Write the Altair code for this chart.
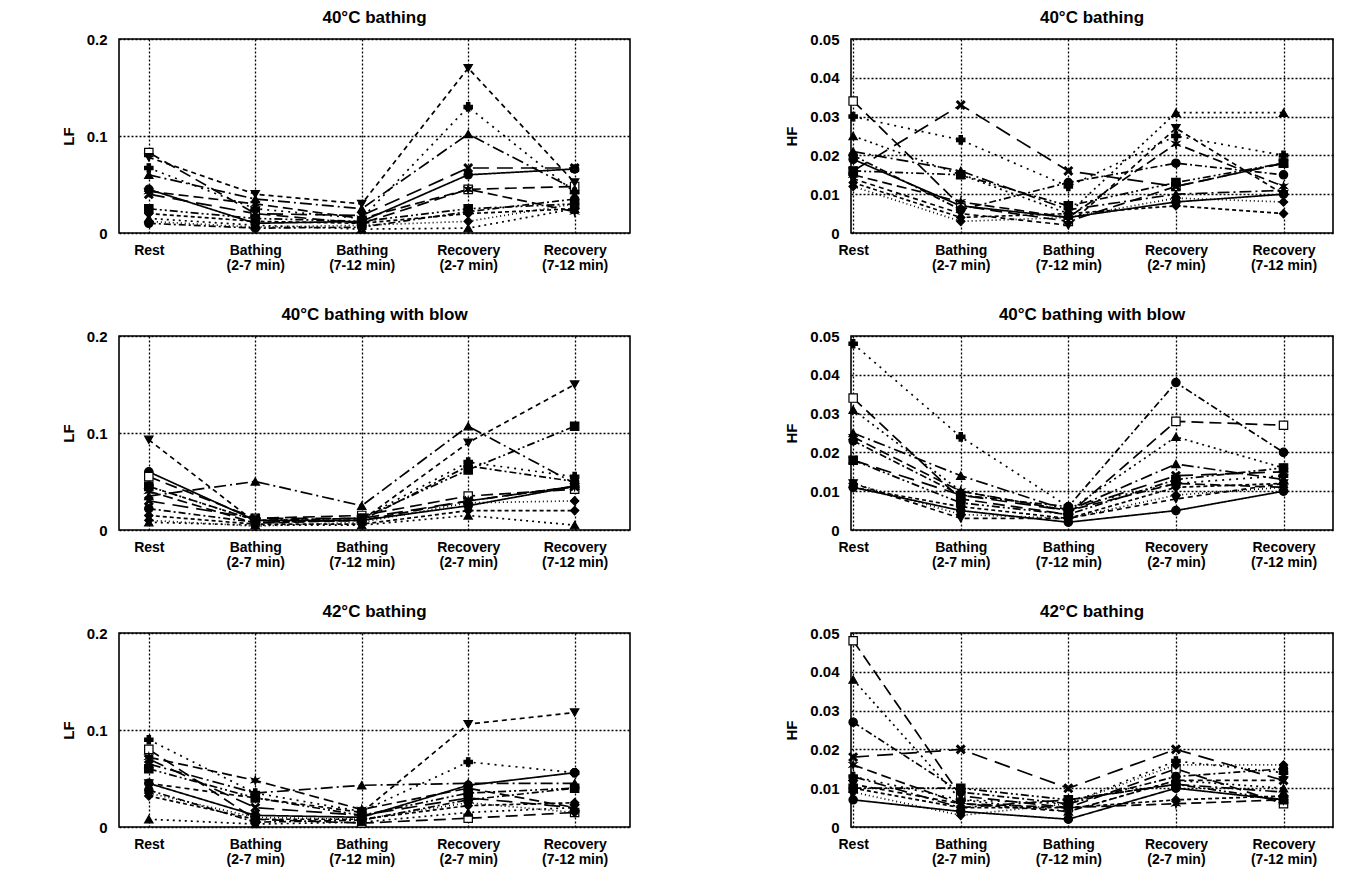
import json
import altair as alt
import pandas as pd

FONT = "Liberation Sans"

# x categories (tick labels, multi-line)
tick_labels = [["Rest"], ["Bathing", "(2-7  min)"], ["Bathing", "(7-12  min)"],
               ["Recovery", "(2-7  min)"], ["Recovery", "(7-12  min)"]]

subjects = ["S1", "S2", "S3", "S4", "S5", "S6", "S7", "S8", "S9", "S10", "S11", "S12"]

X_PATH = "M-1,-0.7L-0.7,-1L0,-0.3L0.7,-1L1,-0.7L0.3,0L1,0.7L0.7,1L0,0.3L-0.7,1L-1,0.7L-0.3,0Z"
STAR_PATH = "M0,-1L0.2,-0.35L0.87,-0.5L0.35,0L0.87,0.5L0.2,0.35L0,1L-0.2,0.35L-0.87,0.5L-0.35,0L-0.87,-0.5L-0.2,-0.35Z"

shapes = ["circle", "square", "cross", "triangle-down", "triangle-up", X_PATH,
          "triangle-up", "square", "diamond", "circle", STAR_PATH, "diamond"]
fills = ["black", "white", "black", "black", "black", "black",
         "black", "black", "black", "black", "black", "black"]
dashes = [[1, 0], [12, 6], [2, 5], [5, 4], [12, 4, 2, 4], [16, 8],
          [2, 4], [8, 3, 2, 3, 2, 3], [4, 3], [7, 3, 2, 3], [10, 5], [1, 3]]

# ---- values per panel (one list per subject: Rest, B2-7, B7-12, R2-7, R7-12)
lf_40 = [
    [0.045, 0.010, 0.012, 0.060, 0.066],
    [0.083, 0.020, 0.010, 0.045, 0.048],
    [0.067, 0.025, 0.015, 0.130, 0.042],
    [0.078, 0.040, 0.030, 0.170, 0.052],
    [0.060, 0.035, 0.025, 0.102, 0.045],
    [0.040, 0.020, 0.018, 0.067, 0.067],
    [0.015, 0.008, 0.004, 0.005, 0.025],
    [0.025, 0.015, 0.012, 0.025, 0.030],
    [0.020, 0.012, 0.010, 0.020, 0.025],
    [0.010, 0.005, 0.006, 0.022, 0.035],
    [0.043, 0.030, 0.015, 0.045, 0.022],
    [0.012, 0.006, 0.008, 0.012, 0.030],
]
hf_40 = [
    [0.019, 0.007, 0.004, 0.008, 0.010],
    [0.034, 0.007, 0.003, 0.012, 0.018],
    [0.030, 0.024, 0.012, 0.025, 0.020],
    [0.014, 0.005, 0.002, 0.027, 0.010],
    [0.021, 0.016, 0.006, 0.010, 0.011],
    [0.016, 0.033, 0.016, 0.012, 0.018],
    [0.025, 0.015, 0.005, 0.031, 0.031],
    [0.016, 0.015, 0.007, 0.013, 0.018],
    [0.013, 0.004, 0.005, 0.007, 0.005],
    [0.020, 0.006, 0.013, 0.018, 0.015],
    [0.015, 0.008, 0.004, 0.023, 0.012],
    [0.012, 0.003, 0.004, 0.009, 0.008],
]
lf_40b = [
    [0.060, 0.010, 0.010, 0.025, 0.045],
    [0.055, 0.012, 0.015, 0.035, 0.042],
    [0.045, 0.010, 0.012, 0.070, 0.055],
    [0.093, 0.008, 0.010, 0.090, 0.150],
    [0.035, 0.050, 0.025, 0.107, 0.048],
    [0.030, 0.012, 0.012, 0.030, 0.045],
    [0.008, 0.005, 0.005, 0.015, 0.005],
    [0.045, 0.010, 0.012, 0.062, 0.107],
    [0.015, 0.006, 0.006, 0.020, 0.020],
    [0.022, 0.008, 0.010, 0.066, 0.050],
    [0.040, 0.007, 0.010, 0.030, 0.045],
    [0.010, 0.004, 0.008, 0.028, 0.030],
]
hf_40b = [
    [0.011, 0.005, 0.002, 0.005, 0.010],
    [0.034, 0.008, 0.004, 0.028, 0.027],
    [0.048, 0.024, 0.006, 0.012, 0.014],
    [0.012, 0.003, 0.003, 0.008, 0.012],
    [0.025, 0.014, 0.005, 0.017, 0.013],
    [0.018, 0.009, 0.005, 0.014, 0.015],
    [0.031, 0.010, 0.005, 0.024, 0.016],
    [0.018, 0.007, 0.004, 0.013, 0.016],
    [0.011, 0.006, 0.003, 0.011, 0.012],
    [0.023, 0.009, 0.006, 0.038, 0.020],
    [0.024, 0.010, 0.005, 0.012, 0.011],
    [0.012, 0.004, 0.003, 0.009, 0.011],
]
lf_42 = [
    [0.045, 0.012, 0.010, 0.043, 0.056],
    [0.080, 0.008, 0.004, 0.009, 0.015],
    [0.090, 0.035, 0.016, 0.067, 0.056],
    [0.045, 0.030, 0.015, 0.106, 0.118],
    [0.065, 0.035, 0.043, 0.045, 0.045],
    [0.070, 0.020, 0.012, 0.030, 0.020],
    [0.008, 0.003, 0.005, 0.015, 0.020],
    [0.060, 0.030, 0.012, 0.035, 0.040],
    [0.032, 0.008, 0.008, 0.022, 0.025],
    [0.038, 0.005, 0.007, 0.028, 0.040],
    [0.072, 0.048, 0.018, 0.040, 0.020],
    [0.035, 0.010, 0.008, 0.025, 0.015],
]
hf_42 = [
    [0.007, 0.004, 0.002, 0.010, 0.007],
    [0.048, 0.008, 0.005, 0.015, 0.006],
    [0.013, 0.007, 0.006, 0.017, 0.014],
    [0.011, 0.006, 0.004, 0.012, 0.012],
    [0.013, 0.005, 0.007, 0.011, 0.009],
    [0.018, 0.020, 0.010, 0.020, 0.012],
    [0.038, 0.007, 0.004, 0.012, 0.010],
    [0.010, 0.010, 0.007, 0.011, 0.007],
    [0.010, 0.005, 0.005, 0.007, 0.008],
    [0.027, 0.009, 0.006, 0.013, 0.015],
    [0.016, 0.006, 0.005, 0.006, 0.007],
    [0.009, 0.003, 0.006, 0.016, 0.016],
]

lf_ticks = [0, 0.1, 0.2]
hf_ticks = [0, 0.01, 0.02, 0.03, 0.04, 0.05]


def x_label_expr():
    parts = []
    for i, lab in enumerate(tick_labels):
        parts.append(f"datum.value == {i} ? {json.dumps(lab)} : ")
    return "".join(parts) + "''"


def panel(values, title, ytitle, ymax, yticks, ydigits, xdom, w, h):
    rows = []
    for s, vals in zip(subjects, values):
        for t, v in enumerate(vals):
            rows.append({"s": s, "t": t, "v": v})
    df = pd.DataFrame(rows)
    yexpr = f"datum.value == 0 ? '0' : format(datum.value, '.{ydigits}f')"
    base = alt.Chart(df).encode(
        x=alt.X("t:Q",
                scale=alt.Scale(domain=xdom, nice=False, zero=False),
                axis=alt.Axis(values=[0, 1, 2, 3, 4], labelExpr=x_label_expr(),
                              grid=True, gridDash=[2, 2], gridColor="black",
                              gridOpacity=1, gridWidth=1.3, ticks=False,
                              domain=False, title=None, labelFont=FONT,
                              labelFontWeight="bold", labelFontSize=14,
                              labelLineHeight=15, labelPadding=10,
                              labelColor="black", labelBaseline="top")),
        y=alt.Y("v:Q",
                scale=alt.Scale(domain=[0, ymax], nice=False),
                axis=alt.Axis(values=yticks, labelExpr=yexpr, grid=True,
                              gridDash=[2, 2], gridColor="black", gridOpacity=1,
                              gridWidth=1.3, ticks=False, domain=False,
                              title=ytitle, titleFont=FONT, titleFontSize=15,
                              titleFontWeight="bold", titleColor="black",
                              titlePadding=10, labelFont=FONT,
                              labelFontWeight="bold", labelFontSize=15,
                              labelColor="black", labelPadding=12)),
    )
    lines = base.mark_line(color="black", strokeWidth=1.7).encode(
        strokeDash=alt.StrokeDash("s:N", scale=alt.Scale(domain=subjects, range=dashes), legend=None),
        detail="s:N",
    )
    pts = base.mark_point(filled=True, stroke="black", strokeWidth=1.2, size=70, opacity=1).encode(
        shape=alt.Shape("s:N", scale=alt.Scale(domain=subjects, range=shapes), legend=None),
        fill=alt.Fill("s:N", scale=alt.Scale(domain=subjects, range=fills), legend=None),
    )
    return alt.layer(lines, pts).properties(
        width=w, height=h,
        title=alt.TitleParams(title, font=FONT, fontSize=17, fontWeight="bold",
                              color="black", offset=5, anchor="middle"),
    )


LX = [-0.28, 4.52]
RX = [-0.02, 4.46]
LW, RW, H = 511, 482, 194

row1 = alt.hconcat(
    panel(lf_40, "40°C bathing", "LF", 0.2, lf_ticks, 1, LX, LW, H),
    panel(hf_40, "40°C bathing", "HF", 0.05, hf_ticks, 2, RX, RW, H),
    spacing=153,
)
row2 = alt.hconcat(
    panel(lf_40b, "40°C bathing with blow", "LF", 0.2, lf_ticks, 1, LX, LW, H),
    panel(hf_40b, "40°C bathing with blow", "HF", 0.05, hf_ticks, 2, RX, RW, H),
    spacing=153,
)
row3 = alt.hconcat(
    panel(lf_42, "42°C bathing", "LF", 0.2, lf_ticks, 1, LX, LW, H),
    panel(hf_42, "42°C bathing", "HF", 0.05, hf_ticks, 2, RX, RW, H),
    spacing=153,
)

chart = alt.vconcat(row1, row2, row3, spacing=32).properties(
    padding={"left": 60, "top": 8, "right": 10, "bottom": 5},
    background="white",
).configure_view(stroke="black", strokeWidth=1.6)

chart.save("out.html", embed_options={"renderer": "svg", "actions": False})
